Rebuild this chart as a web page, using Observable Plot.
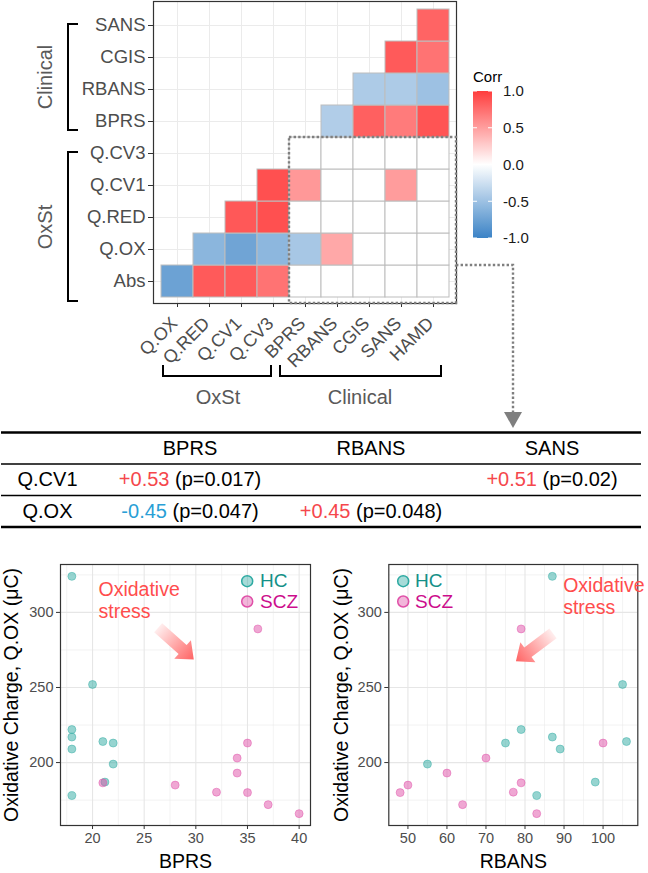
<!DOCTYPE html>
<html>
<head>
<meta charset="utf-8">
<script src="https://cdn.jsdelivr.net/npm/d3@7"></script>
<script src="https://cdn.jsdelivr.net/npm/@observablehq/plot@0.6"></script>
<style>
  body { margin: 0; background: #fff; }
  #root { position: relative; width: 648px; height: 873px; overflow: hidden; background: #fff;
          font-family: "Liberation Sans", Arial, Helvetica, sans-serif; }
  #root svg { position: absolute; }
</style>
</head>
<body>
<div id="root"></div>
<script>
// ---------------- DATA ----------------
// Correlation heatmap (lower triangle). Row i holds values for columns i..8 of heatCols.
const heatRows = ["Abs", "Q.OX", "Q.RED", "Q.CV1", "Q.CV3", "BPRS", "RBANS", "CGIS", "SANS"];
const heatCols = ["Q.OX", "Q.RED", "Q.CV1", "Q.CV3", "BPRS", "RBANS", "CGIS", "SANS", "HAMD"];
const corrAbs   = [-0.75, 0.85, 0.85, 0.72, 0, 0, 0, 0, 0];
const corrQOX   = [-0.59, -0.73, -0.58, -0.45, 0.45, 0, 0, 0];
const corrQRED  = [0.86, 0.90, 0, 0, 0, 0, 0];
const corrQCV1  = [0.90, 0.53, 0, 0, 0.51, 0];
const corrQCV3  = [0, 0, 0, 0, 0];
const corrBPRS  = [-0.40, 0.82, 0.68, 0.88];
const corrRBANS = [-0.42, -0.42, -0.50];
const corrCGIS  = [0.85, 0.72];
const corrSANS  = [0.80];
const corrRows = [corrAbs, corrQOX, corrQRED, corrQCV1, corrQCV3, corrBPRS, corrRBANS, corrCGIS, corrSANS];
const corrLegendTicks = [-1, -0.5, 0, 0.5, 1];

// Significant correlations table
const tableCols = ["BPRS", "RBANS", "SANS"];
const tableRows = ["Q.CV1", "Q.OX"];
const tableR = [[0.53, null, 0.51], [-0.45, 0.45, null]];
const tableP = [[0.017, null, 0.02], [0.047, 0.048, null]];

// Scatter data
const groups = ["HC", "SCZ"];
const hcQOX    = [324, 252, 222, 217, 209, 214, 213, 199, 187, 178];
const hcBPRS   = [18, 20, 18, 18, 18, 21, 22, 22, 21.2, 18];
const hcRBANS  = [87, 105, 79, 87, 89, 106, 75, 55, 98, 83];
const sczQOX   = [180, 185, 193, 172, 203, 180.3, 186.5, 289, 166, 213];
const sczBPRS  = [35, 28, 34, 37, 34, 32, 21, 36, 40, 35];
const sczRBANS = [48, 50, 60, 64, 70, 77, 79, 79, 83, 100];
const bprsTicks  = [20, 25, 30, 35, 40];
const rbansTicks = [50, 60, 70, 80, 90, 100];
const qoxTicks   = [200, 250, 300];
const annLines = ["Oxidative", "stress"];
// "Oxidative stress" arrows, in data units (tail -> tip)
const arrowBPRS  = {x1: 26.4, y1: 289.5, x2: 29.85, y2: 268.3};
const arrowRBANS = {x1: 87.3, y1: 285.7, x2: 77.8, y2: 267.1};

// ---------------- STYLE ----------------
const FONT = '"Liberation Sans", Arial, Helvetica, sans-serif';
const AXIS_TXT = "#4d4d4d";
const RED = "#f5474c", BLUE = "#2a9fd6";
const TEAL = "#2eaaa2", MAGENTA = "#e050a8";
const root = document.getElementById("root");
function place(svg, left, top) {
  svg.style.position = "absolute";
  svg.style.left = left + "px";
  svg.style.top = top + "px";
  root.appendChild(svg);
  return svg;
}

// ---------------- HEATMAP ----------------
const cells = [];
corrRows.forEach((vals, i) => vals.forEach((r, k) => cells.push({row: heatRows[i], col: heatCols[i + k], r})));

const hm = Plot.plot({
  width: 648, height: 420,
  marginLeft: 153, marginRight: 192, marginTop: 1, marginBottom: 117,
  style: {background: "transparent", fontFamily: FONT, overflow: "visible"},
  x: {domain: heatCols, padding: 0, inset: 4, label: null},
  y: {domain: heatRows.slice().reverse(), padding: 0, insetTop: 3.5, insetBottom: 2.5, label: null},
  color: {type: "linear", domain: [-1, 0, 1], range: ["#3b83c6", "#ffffff", "#ff3d3d"]},
  marks: [
    Plot.gridX(heatCols, {stroke: "#ebebeb", strokeOpacity: 1}),
    Plot.gridY(heatRows, {stroke: "#ebebeb", strokeOpacity: 1}),
    Plot.cell(cells, {x: "col", y: "row", fill: "r", stroke: "#bdbdbd", strokeWidth: 1, inset: 0}),
    Plot.frame({stroke: "#333", strokeWidth: 1.2}),
    Plot.axisX({text: null, tickSize: 4, stroke: "#333", label: null}),
    Plot.axisX({tickSize: 0, tickRotate: -45, fontSize: 18, tickPadding: 4, dx: -3, dy: 13, fill: AXIS_TXT, label: null}),
    Plot.axisY({fontSize: 18.5, tickSize: 5, tickPadding: 3, fill: AXIS_TXT, stroke: "#333", label: null})
  ]
});
place(hm, 0, 0);

// ---------------- TABLE ----------------
const fmtR = r => (r > 0 ? "+" : "-") + Math.abs(r).toFixed(2);
const tableCells = [];
tableR.forEach((row, i) => row.forEach((r, j) => {
  if (r != null) tableCells.push({ri: i, col: tableCols[j], r, p: tableP[i][j]});
}));
const tbl = Plot.plot({
  width: 648, height: 110,
  marginLeft: 1, marginRight: 7, marginTop: 0, marginBottom: 0,
  style: {background: "transparent", fontFamily: FONT, overflow: "visible"},
  x: {type: "band", domain: tableCols, range: [98, 642], padding: 0, axis: null},
  y: {domain: [0, 3], range: [7, 101.5], axis: null},
  marks: [
    Plot.ruleY([0, 3], {stroke: "#000", strokeWidth: 2.6}),
    Plot.ruleY([1, 2], {stroke: "#000", strokeWidth: 1.3}),
    Plot.text(tableCols, {x: d => d, y: 0.5, text: d => d, fontSize: 20, fill: "#000"}),
    Plot.text(tableRows, {frameAnchor: "left", textAnchor: "middle", dx: 46, y: (d, i) => i + 1.5, text: d => d, fontSize: 20, fill: "#000"}),
    Plot.text(tableCells, {x: "col", y: d => d.ri + 1.5, text: d => `${fmtR(d.r)} (p=${d.p})`,
      fontSize: 20, fill: "#000", ariaDescription: "corrvalues"})
  ]
});
{
  let g = d3.select(tbl).select('g[aria-description="corrvalues"]');
  let texts = g.empty()
    ? d3.select(tbl).selectAll("text").filter(function () { return /\(p=/.test(this.textContent); })
    : g.selectAll("text");
  texts.each(function () {
    const s = this.textContent, k = s.indexOf(" ");
    const head = s.slice(0, k), tail = s.slice(k + 1);
    const el = d3.select(this);
    el.text(null);
    el.append("tspan").attr("fill", head.startsWith("-") ? BLUE : RED).style("fill", head.startsWith("-") ? BLUE : RED).text(head);
    el.append("tspan").attr("fill", "#000").style("fill", "#000").text("\u00a0" + tail);
  });
}
place(tbl, 0, 425);

// ---------------- SCATTERS ----------------
const scatterData = [
  ...hcQOX.map((q, i) => ({group: "HC", qox: q, bprs: hcBPRS[i], rbans: hcRBANS[i]})),
  ...sczQOX.map((q, i) => ({group: "SCZ", qox: q, bprs: sczBPRS[i], rbans: sczRBANS[i]}))
];
function expand(vals) {
  const [a, b] = d3.extent(vals);
  const p = (b - a) * 0.05;
  return [a - p, b + p];
}
function minorOf(ticks, dom) {
  const step = ticks[1] - ticks[0];
  return d3.range(ticks[0] - step / 2, ticks[ticks.length - 1] + step, step).filter(v => v >= dom[0] && v <= dom[1]);
}
function blockArrow(plot, a, id) {
  const sx = plot.scale("x"), sy = plot.scale("y");
  const x0 = sx.apply(a.x1), y0 = sy.apply(a.y1), x1 = sx.apply(a.x2), y1 = sy.apply(a.y2);
  const dx = x1 - x0, dy = y1 - y0, L = Math.hypot(dx, dy);
  const ux = dx / L, uy = dy / L, vx = -uy, vy = ux;
  const sw = 6, hw = 12.5, hl = 15;
  const pt = (s, t) => [x0 + ux * s + vx * t, y0 + uy * s + vy * t];
  const pts = [pt(0, -sw), pt(L - hl, -sw), pt(L - hl, -hw), pt(L, 0), pt(L - hl, hw), pt(L - hl, sw), pt(0, sw)];
  const svg = d3.select(plot);
  const g = svg.append("linearGradient").attr("id", id).attr("gradientUnits", "userSpaceOnUse")
    .attr("x1", x0).attr("y1", y0).attr("x2", x1).attr("y2", y1);
  g.append("stop").attr("offset", 0).attr("stop-color", "#ffeeee");
  g.append("stop").attr("offset", 1).attr("stop-color", "#ff6363");
  svg.append("polygon").attr("points", pts.map(p => p.join(",")).join(" ")).attr("fill", `url(#${id})`);
}

function scatter({xKey, xTicks, xTitle, marginLeft, marginRight, legendAnchor, legendDx, textDx, annDx, annDy, titleDx}) {
  const xDom = expand(scatterData.map(d => d[xKey]));
  const yDom = expand(scatterData.map(d => d.qox));
  const legendMarks = [];
  groups.forEach((g, i) => {
    legendMarks.push(Plot.dot([g], {frameAnchor: legendAnchor, dx: legendDx, dy: 16.7 + i * 20.3, r: 5.5,
      fill: d => d, fillOpacity: 0.42, stroke: d => d, strokeWidth: 1.5}));
    legendMarks.push(Plot.text([g], {frameAnchor: legendAnchor, dx: textDx, dy: 16.7 + i * 20.3, text: d => d,
      textAnchor: "start", lineAnchor: "middle", fontSize: 19, fill: i === 0 ? "#139088" : "#cc0d8c"}));
  });
  const annMarks = annLines.map((line, i) => Plot.text([line], {frameAnchor: "top-left", dx: annDx, dy: annDy + (i - 0.5) * 22,
    text: d => d, textAnchor: "start", lineAnchor: "middle", fontSize: 19.5, fill: "#ff4d4d"}));
  return Plot.plot({
    width: 324, height: 333,
    marginLeft, marginRight, marginTop: 24, marginBottom: 48,
    style: {background: "transparent", fontFamily: FONT, overflow: "visible"},
    x: {domain: xDom, label: null},
    y: {domain: yDom, label: null},
    color: {domain: groups, range: [TEAL, MAGENTA]},
    marks: [
      Plot.gridX(minorOf(xTicks, xDom), {stroke: "#ebebeb", strokeOpacity: 1, strokeWidth: 0.6}),
      Plot.gridY(minorOf(qoxTicks, yDom), {stroke: "#ebebeb", strokeOpacity: 1, strokeWidth: 0.6}),
      Plot.gridX(xTicks, {stroke: "#e6e6e6", strokeOpacity: 1, strokeWidth: 1.1}),
      Plot.gridY(qoxTicks, {stroke: "#e6e6e6", strokeOpacity: 1, strokeWidth: 1.1}),
      Plot.frame({stroke: "#333", strokeWidth: 1.2}),
      Plot.dot(scatterData, {x: xKey, y: "qox", r: 4, fill: "group", fillOpacity: 0.5, stroke: "group", strokeOpacity: 0.45, strokeWidth: 1}),
      Plot.axisX(xTicks, {tickSize: 4, tickPadding: 3, fontSize: 14.5, fill: AXIS_TXT, stroke: "#333", label: null}),
      Plot.axisY(qoxTicks, {tickSize: 4, tickPadding: 3, fontSize: 14.5, fill: AXIS_TXT, stroke: "#333", label: null}),
      Plot.text([xTitle], {frameAnchor: "bottom", textAnchor: "middle", lineAnchor: "middle", dy: 36, text: d => d, fontSize: 19.5, fill: "#000"}),
      Plot.text(["Oxidative Charge, Q.OX (μC)"], {frameAnchor: "left", textAnchor: "middle", lineAnchor: "middle",
        dx: titleDx, rotate: -90, text: d => d, fontSize: 19.5, fill: "#000"}),
      ...legendMarks,
      ...annMarks
    ]
  });
}

const sc1 = scatter({xKey: "bprs", xTicks: bprsTicks, xTitle: "BPRS", marginLeft: 60, marginRight: 14,
  legendAnchor: "top-right", legendDx: -63.3, textDx: -50.5, annDx: 38, annDy: 36.3, titleDx: -49});
blockArrow(sc1, arrowBPRS, "arrowGrad1");
place(sc1, 0, 540);

const sc2 = scatter({xKey: "rbans", xTicks: rbansTicks, xTitle: "RBANS", marginLeft: 64.3, marginRight: 10.7,
  legendAnchor: "top-left", legendDx: 14.4, textDx: 26.2, annDx: 174.4, annDy: 32.7, titleDx: -47});
blockArrow(sc2, arrowRBANS, "arrowGrad2");
place(sc2, 324, 540);

// ---------------- OVERLAY ANNOTATIONS ----------------
const ov = d3.select(root).append("svg").attr("width", 648).attr("height", 873)
  .style("left", "0px").style("top", "0px").style("pointer-events", "none")
  .style("font-family", FONT);

// brackets
const br = ov.append("g").attr("fill", "none").attr("stroke", "#000").attr("stroke-width", 2);
br.append("path").attr("d", "M78,24H68V130H78");
br.append("path").attr("d", "M78,152H68V301H78");
br.append("path").attr("d", "M163,365V376H271V365");
br.append("path").attr("d", "M280,365V376H441V365");
const bt = ov.append("g").attr("fill", "#595959").attr("font-size", 20).attr("text-anchor", "middle");
bt.append("text").attr("transform", "translate(52,77) rotate(-90)").text("Clinical");
bt.append("text").attr("transform", "translate(52,227) rotate(-90)").text("OxSt");
bt.append("text").attr("x", 218).attr("y", 404).text("OxSt");
bt.append("text").attr("x", 360).attr("y", 404).text("Clinical");

// dashed box and connector, from heatmap scales
const hx = hm.scale("x"), hy = hm.scale("y");
const frameRight = 648 - 192, frameBottom = 420 - 117;
const boxX1 = hx.apply("BPRS"), boxY1 = hy.apply("Q.CV3");
const connY = hy.apply("Abs");
ov.append("rect").attr("x", boxX1).attr("y", boxY1).attr("width", frameRight - boxX1).attr("height", frameBottom - boxY1)
  .attr("fill", "none").attr("stroke", "#7f7f7f").attr("stroke-width", 2.4).attr("stroke-dasharray", "2.4,2.2");
const cx = frameRight + 57;
ov.append("path").attr("d", `M${frameRight},${connY}H${cx}V413`).attr("fill", "none")
  .attr("stroke", "#7f7f7f").attr("stroke-width", 2.4).attr("stroke-dasharray", "2.4,2.2");
ov.append("path").attr("d", `M${cx - 9},412L${cx + 9},412L${cx},428Z`).attr("fill", "#7f7f7f");

// colour bar legend
const cs = hm.scale("color");
const lg = ov.append("g");
const grad = ov.append("defs").append("linearGradient").attr("id", "corrGrad")
  .attr("x1", 0).attr("y1", 1).attr("x2", 0).attr("y2", 0);
d3.range(0, 21).forEach(k => {
  const v = -1 + k * 0.1;
  grad.append("stop").attr("offset", k / 20).attr("stop-color", cs.apply(v));
});
const barX = 473, barW = 19, barTop = 91, barH = 147;
const ly = v => barTop + (1 - v) / 2 * barH;
lg.append("text").attr("x", 473).attr("y", 82).attr("font-size", 15).attr("fill", "#000").text("Corr");
lg.append("rect").attr("x", barX).attr("y", barTop).attr("width", barW).attr("height", barH).attr("fill", "url(#corrGrad)");
corrLegendTicks.forEach(v => {
  lg.append("line").attr("x1", barX).attr("x2", barX + 4).attr("y1", ly(v)).attr("y2", ly(v)).attr("stroke", "#fff");
  lg.append("line").attr("x1", barX + barW - 4).attr("x2", barX + barW).attr("y1", ly(v)).attr("y2", ly(v)).attr("stroke", "#fff");
  lg.append("text").attr("x", 503).attr("y", ly(v)).attr("dy", "0.35em").attr("font-size", 15).attr("fill", "#1a1a1a")
    .text(v.toFixed(1));
});
</script>
</body>
</html>
